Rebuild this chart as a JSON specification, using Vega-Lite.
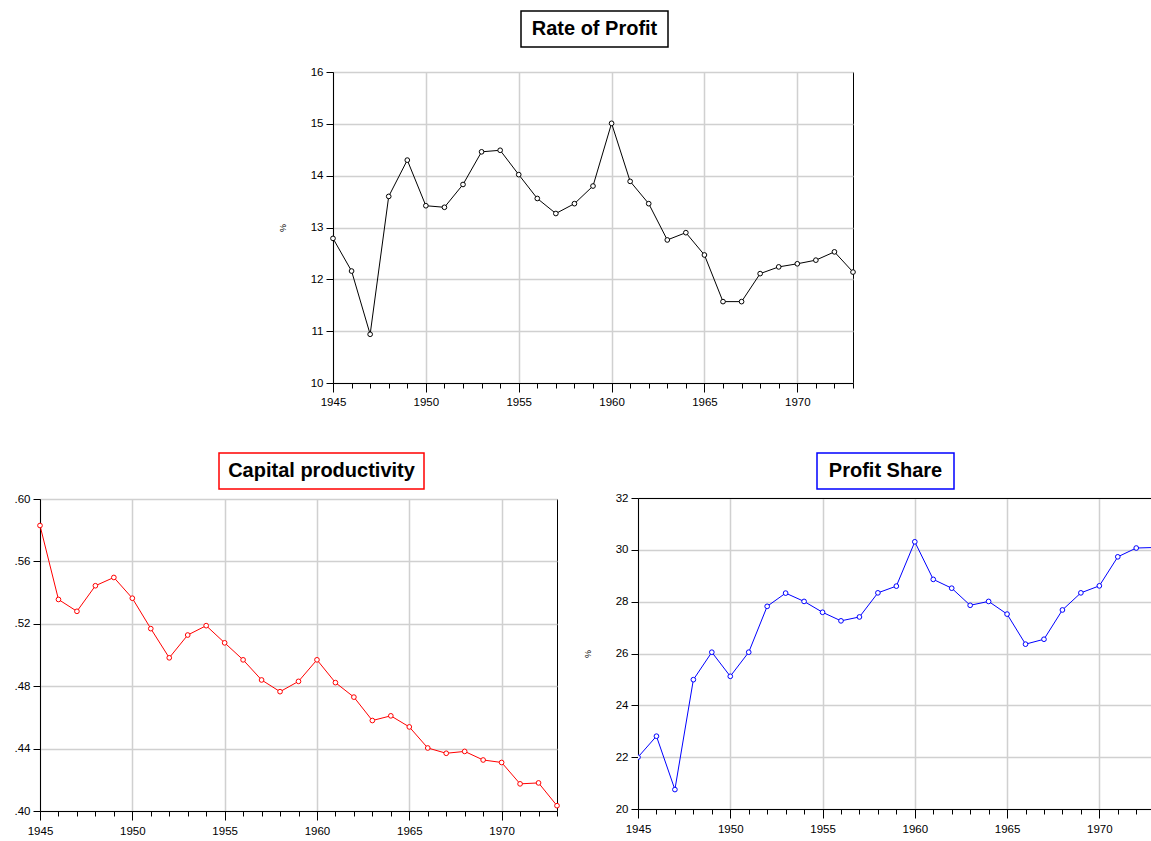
{
  "$schema": "https://vega.github.io/schema/vega-lite/v6.json",
  "padding": {"left": 13, "top": 10, "right": 0, "bottom": 0},
  "background": "white",
  "config": {
    "font": "Liberation Sans",
    "view": {"stroke": "#000", "strokeWidth": 1},
    "axis": {
      "domainColor": "#000", "domainWidth": 1, "tickColor": "#000", "tickWidth": 1,
      "labelFont": "Liberation Sans", "labelFontSize": 11.5, "labelColor": "#000",
      "gridColor": "#d0d0d0", "gridWidth": 1.5,
      "titleFont": "Liberation Sans", "titleFontWeight": "normal", "titleColor": "#000"
    },
    "concat": {"spacing": 0}
  },
  "datasets": {
    "d": [
      {"year": 1945, "rate": 12.79, "cap": 0.583, "share": 22.00},
      {"year": 1946, "rate": 12.16, "cap": 0.5356, "share": 22.81},
      {"year": 1947, "rate": 10.94, "cap": 0.528, "share": 20.75},
      {"year": 1948, "rate": 13.60, "cap": 0.5444, "share": 24.99},
      {"year": 1949, "rate": 14.30, "cap": 0.5497, "share": 26.05},
      {"year": 1950, "rate": 13.42, "cap": 0.5364, "share": 25.12},
      {"year": 1951, "rate": 13.39, "cap": 0.5169, "share": 26.05},
      {"year": 1952, "rate": 13.83, "cap": 0.4982, "share": 27.82},
      {"year": 1953, "rate": 14.46, "cap": 0.5128, "share": 28.33},
      {"year": 1954, "rate": 14.49, "cap": 0.5188, "share": 28.01},
      {"year": 1955, "rate": 14.02, "cap": 0.5078, "share": 27.59},
      {"year": 1956, "rate": 13.56, "cap": 0.4969, "share": 27.26},
      {"year": 1957, "rate": 13.27, "cap": 0.484, "share": 27.41},
      {"year": 1958, "rate": 13.46, "cap": 0.4765, "share": 28.34},
      {"year": 1959, "rate": 13.80, "cap": 0.4831, "share": 28.60},
      {"year": 1960, "rate": 15.01, "cap": 0.4969, "share": 30.31},
      {"year": 1961, "rate": 13.89, "cap": 0.4823, "share": 28.86},
      {"year": 1962, "rate": 13.46, "cap": 0.473, "share": 28.52},
      {"year": 1963, "rate": 12.76, "cap": 0.458, "share": 27.86},
      {"year": 1964, "rate": 12.90, "cap": 0.461, "share": 28.01},
      {"year": 1965, "rate": 12.47, "cap": 0.4539, "share": 27.52},
      {"year": 1966, "rate": 11.57, "cap": 0.4404, "share": 26.36},
      {"year": 1967, "rate": 11.57, "cap": 0.437, "share": 26.55},
      {"year": 1968, "rate": 12.11, "cap": 0.4382, "share": 27.68},
      {"year": 1969, "rate": 12.24, "cap": 0.4327, "share": 28.34},
      {"year": 1970, "rate": 12.30, "cap": 0.4311, "share": 28.61},
      {"year": 1971, "rate": 12.37, "cap": 0.4174, "share": 29.73},
      {"year": 1972, "rate": 12.53, "cap": 0.418, "share": 30.07},
      {"year": 1973, "rate": 12.14, "cap": 0.4034, "share": 30.09}
    ]
  },
  "spacing": 44,
  "vconcat": [
    {
      "hconcat": [
        {"width": 236.5, "height": 10, "data": {"values": [{}]}, "mark": {"type": "point", "opacity": 0}, "view": {"stroke": null}},
        {
          "spacing": 17,
          "vconcat": [
            {
              "hconcat": [
                {"width": 186.5, "height": 36, "data": {"values": [{}]}, "mark": {"type": "point", "opacity": 0}, "view": {"stroke": null}},
                {"width": 147, "height": 36, "view": {"stroke": "#000", "strokeWidth": 1.5},
                 "data": {"values": [{"t": "Rate of Profit"}]},
                 "mark": {"type": "text", "font": "Liberation Sans", "fontWeight": "bold", "fontSize": 20, "color": "#000"},
                 "encoding": {"text": {"field": "t"}}}
              ]
            },
            {
              "width": 520, "height": 311,
              "data": {"name": "d"},
              "encoding": {
                "x": {"field": "year", "type": "quantitative", "scale": {"domain": [1945, 1973], "nice": false, "zero": false},
                  "axis": {"title": null, "values": [1945,1946,1947,1948,1949,1950,1951,1952,1953,1954,1955,1956,1957,1958,1959,1960,1961,1962,1963,1964,1965,1966,1967,1968,1969,1970,1971,1972,1973],
                    "labelExpr": "datum.value % 5 === 0 ? datum.value + '' : ''",
                    "tickSize": {"condition": {"test": "datum.value % 5 === 0", "value": 9}, "value": 5},
                    "gridOpacity": {"condition": {"test": "datum.value % 5 === 0", "value": 1}, "value": 0},
                    "labelPadding": 4, "labelFlush": false, "labelOverlap": false, "labelBound": false}},
                "y": {"field": "rate", "type": "quantitative", "scale": {"domain": [10, 16], "nice": false, "zero": false},
                  "axis": {"title": "%", "titleFontSize": 9, "titlePadding": 23, "values": [10, 11, 12, 13, 14, 15, 16], "format": "d", "tickSize": 7, "labelPadding": 3}}
              },
              "layer": [
                {"mark": {"type": "line", "color": "#000", "strokeWidth": 1}},
                {"mark": {"type": "point", "shape": "circle", "filled": false, "fill": "white", "fillOpacity": 1, "stroke": "#000", "strokeWidth": 1, "size": 22, "opacity": 1}}
              ]
            }
          ]
        }
      ]
    },
    {
      "spacing": 21,
      "hconcat": [
        {
          "spacing": 2,
          "vconcat": [
            {
              "hconcat": [
                {"width": 178, "height": 36, "data": {"values": [{}]}, "mark": {"type": "point", "opacity": 0}, "view": {"stroke": null}},
                {"width": 205, "height": 36, "view": {"stroke": "#ff0000", "strokeWidth": 1.5},
                 "data": {"values": [{"t": "Capital productivity"}]},
                 "mark": {"type": "text", "font": "Liberation Sans", "fontWeight": "bold", "fontSize": 20, "color": "#000"},
                 "encoding": {"text": {"field": "t"}}}
              ]
            },
            {
              "width": 517, "height": 312,
              "data": {"name": "d"},
              "encoding": {
                "x": {"field": "year", "type": "quantitative", "scale": {"domain": [1945, 1973], "nice": false, "zero": false},
                  "axis": {"title": null, "values": [1945,1946,1947,1948,1949,1950,1951,1952,1953,1954,1955,1956,1957,1958,1959,1960,1961,1962,1963,1964,1965,1966,1967,1968,1969,1970,1971,1972,1973],
                    "labelExpr": "datum.value % 5 === 0 ? datum.value + '' : ''",
                    "tickSize": {"condition": {"test": "datum.value % 5 === 0", "value": 9}, "value": 5},
                    "gridOpacity": {"condition": {"test": "datum.value % 5 === 0", "value": 1}, "value": 0},
                    "labelPadding": 5, "labelFlush": false, "labelOverlap": false, "labelBound": false}},
                "y": {"field": "cap", "type": "quantitative", "scale": {"domain": [0.40, 0.60], "nice": false, "zero": false},
                  "axis": {"title": null, "values": [0.40, 0.44, 0.48, 0.52, 0.56, 0.60],
                    "labelExpr": "replace(format(datum.value, '.2f'), '0.', '.')", "tickSize": 7, "labelPadding": 3}}
              },
              "layer": [
                {"mark": {"type": "line", "color": "#ff0000", "strokeWidth": 1}},
                {"mark": {"type": "point", "shape": "circle", "filled": false, "fill": "white", "fillOpacity": 1, "stroke": "#ff0000", "strokeWidth": 1, "size": 22, "opacity": 1}}
              ]
            }
          ]
        },
        {
          "spacing": 2,
          "vconcat": [
            {
              "hconcat": [
                {"width": 178, "height": 36, "data": {"values": [{}]}, "mark": {"type": "point", "opacity": 0}, "view": {"stroke": null}},
                {"width": 137, "height": 36, "view": {"stroke": "#0000ff", "strokeWidth": 1.5},
                 "data": {"values": [{"t": "Profit Share"}]},
                 "mark": {"type": "text", "font": "Liberation Sans", "fontWeight": "bold", "fontSize": 20, "color": "#000"},
                 "encoding": {"text": {"field": "t"}}}
              ]
            },
            {
              "width": 513, "height": 311,
              "data": {"name": "d"},
              "view": {"stroke": null},
              "resolve": {"axis": {"x": "independent"}},
              "encoding": {
                "y": {"field": "share", "type": "quantitative", "scale": {"domain": [20, 32], "nice": false, "zero": false},
                  "axis": {"title": "%", "titleFontSize": 9, "titlePadding": 23, "values": [20, 22, 24, 26, 28, 30, 32], "format": "d", "tickSize": 7, "labelPadding": 3}}
              },
              "layer": [
                {"mark": {"type": "line", "color": "#0000ff", "strokeWidth": 1, "clip": true},
                 "encoding": {"x": {"field": "year", "type": "quantitative", "scale": {"domain": [1945, 1972.8], "nice": false, "zero": false},
                   "axis": {"title": null, "orient": "bottom", "values": [1945,1946,1947,1948,1949,1950,1951,1952,1953,1954,1955,1956,1957,1958,1959,1960,1961,1962,1963,1964,1965,1966,1967,1968,1969,1970,1971,1972],
                    "labelExpr": "datum.value % 5 === 0 ? datum.value + '' : ''",
                    "tickSize": {"condition": {"test": "datum.value % 5 === 0", "value": 9}, "value": 5},
                    "gridOpacity": {"condition": {"test": "datum.value % 5 === 0", "value": 1}, "value": 0},
                    "labelPadding": 5, "labelFlush": false, "labelOverlap": false, "labelBound": false}}}},
                {"mark": {"type": "point", "shape": "circle", "filled": false, "fill": "white", "fillOpacity": 1, "stroke": "#0000ff", "strokeWidth": 1, "size": 22, "opacity": 1, "clip": true},
                 "encoding": {"x": {"field": "year", "type": "quantitative", "scale": {"domain": [1945, 1972.8], "nice": false, "zero": false},
                   "axis": {"orient": "top", "title": null, "labels": false, "ticks": false, "grid": false, "domain": true}}}}
              ]
            }
          ]
        }
      ]
    }
  ]
}
